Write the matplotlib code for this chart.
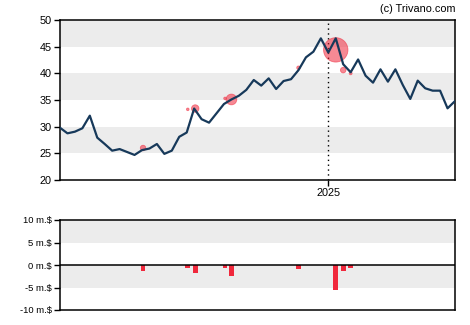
import matplotlib
matplotlib.use("Agg")
import matplotlib.pyplot as plt
import matplotlib.dates as mdates
import numpy as np
import pandas as pd

plt.rcParams['font.family'] = ['Liberation Sans', 'DejaVu Sans']

# Weekly closing prices
start_date = "2024-04-24"
prices = [29.8, 28.75, 29.06, 29.7, 32.06, 27.94, 26.75, 25.5, 25.8, 25.25,
          24.7, 25.6, 25.9, 26.75, 24.9, 25.5, 28.1, 28.9, 33.4, 31.4,
          30.75, 32.5, 34.25, 35.1, 35.8, 36.9, 38.75, 37.7, 39.06, 37.06,
          38.56, 38.9, 40.6, 43.0, 44.06, 46.56, 43.9, 46.56, 41.7, 40.2,
          42.6, 39.56, 38.25, 40.75, 38.44, 40.75, 37.8, 35.2, 38.63, 37.2,
          36.75, 36.75, 33.44, 34.8]

# Insider transactions: days after start, trade price, value in millions $
trade_days = [78, 120, 127, 155, 161, 224, 259, 266, 273]
trade_prices = [26.0, 33.25, 33.4, 35.3, 35.1, 41.05, 44.4, 40.6, 40.0]
trade_values = [-1.25, -0.6, -1.7, -0.6, -2.44, -0.8, -5.55, -1.27, -0.67]

price_ticks = [20, 25, 30, 35, 40, 45, 50]
volume_ticks = [-10, -5, 0, 5, 10]
volume_labels = ["-10 m.$", "-5 m.$", "0 m.$", "5 m.$", "10 m.$"]
year_mark = "2025-01-01"

dates = pd.date_range(start_date, periods=len(prices), freq="7D")
tdates = pd.to_datetime(start_date) + pd.to_timedelta(trade_days, unit="D")

line_color = "#17395a"
red = "#f0283c"
band = "#ececec"

fig = plt.figure(figsize=(4.7, 3.25), dpi=100)
ax = fig.add_axes([60/470, 1-180/325, 395/470, 160/325])
ax2 = fig.add_axes([60/470, 1-310/325, 395/470, 90/325])

# Price panel
for lo in (25, 35, 45):
    ax.axhspan(lo, lo + 5, color=band, zorder=0, lw=0)
ax.plot(dates, prices, color=line_color, lw=1.6, zorder=3)
sizes = (np.abs(trade_values) * 2.2 * 72 / 100) ** 2 * 4
ax.scatter(tdates, trade_prices, s=sizes, color=red, alpha=0.55, lw=0.6,
           edgecolor=red, zorder=2)
ax.axvline(pd.to_datetime(year_mark), color="black", ls=(0, (1, 2.5)), lw=1, zorder=1)
ax.set_ylim(20, 50)
ax.set_yticks(price_ticks)
ax.set_xlim(dates[0], dates[-1])
ax.set_xticks([pd.to_datetime(year_mark)])
ax.xaxis.set_major_formatter(mdates.DateFormatter("%Y"))
ax.tick_params(labelsize=7.8, length=4, width=1, pad=2, colors="black")
for s in ax.spines.values():
    s.set_linewidth(1.1)

fig.text(455/470, 1-9/325, "(c) Trivano.com", ha="right", va="center", fontsize=7.8)

# Transaction panel
ax2.axhspan(5, 10, color=band, zorder=0, lw=0)
ax2.axhspan(-5, 0, color=band, zorder=0, lw=0)
ax2.axhline(0, color="black", lw=1.1, zorder=3)
ax2.bar(tdates, trade_values, width=4.4, color=red, zorder=2)
ax2.set_ylim(-10, 10)
ax2.set_yticks(volume_ticks)
ax2.set_yticklabels(volume_labels)
ax2.set_xlim(dates[0], dates[-1])
ax2.set_xticks([])
ax2.tick_params(labelsize=6.8, length=4, width=1, pad=2, colors="black")
for s in ax2.spines.values():
    s.set_linewidth(1.1)

fig.savefig("out.png", dpi=100)
